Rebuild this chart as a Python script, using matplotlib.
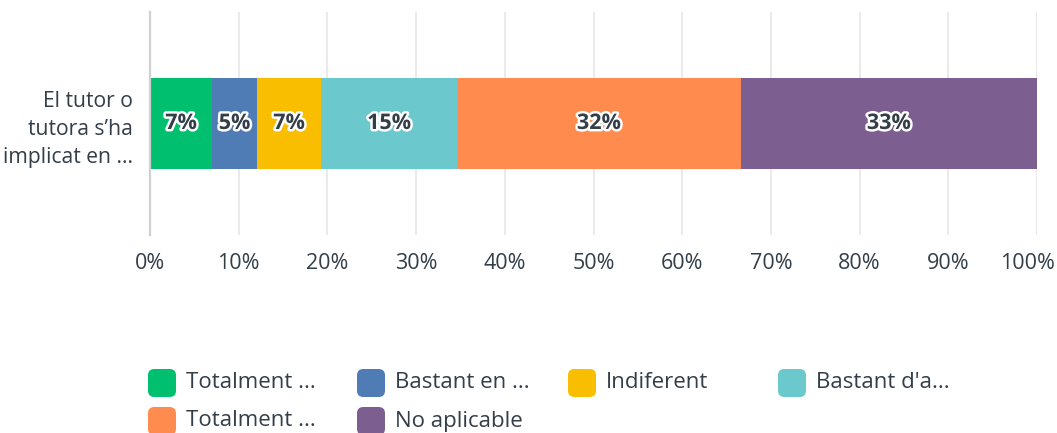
import matplotlib
matplotlib.use("Agg")
import matplotlib.pyplot as plt
from matplotlib.patches import FancyBboxPatch
from matplotlib.transforms import ScaledTranslation
import matplotlib.patheffects as pe

plt.rcParams['font.family'] = ['Open Sans', 'DejaVu Sans']

question = "El tutor o\ntutora s\u2019ha\nimplicat en ..."
categories = ["Totalment ...", "Bastant en ...", "Indiferent", "Bastant d'a...",
              "Totalment ...", "No aplicable"]
values = [6.99, 5.07, 7.22, 15.33, 32.0, 33.39]
labels = ["7%", "5%", "7%", "15%", "32%", "33%"]
colors = ["#00BF6F", "#507CB6", "#F9BE00", "#6BC8CD", "#FF8B4F", "#7D5E90"]
xticks = list(range(0, 101, 10))
xticklabels = [f"{t}%" for t in xticks]

W, H = 1057, 433
fig = plt.figure(figsize=(W / 100, H / 100), dpi=100)
ax = fig.add_axes([150 / W, 1 - 235 / H, (1037 - 150) / W, (235 - 12) / H])

text_col = "#333E48"
left = 0
for v, lab, c in zip(values, labels, colors):
    ax.barh(0, v, left=left, height=0.41, color=c, zorder=3)
    ax.text(left + v / 2, 0, lab, ha="center", va="center", fontsize=15.5,
            fontweight="bold", color=text_col, zorder=4,
            path_effects=[pe.withStroke(linewidth=3.5, foreground="white")])
    left += v

ax.set_xlim(0, 100)
ax.set_ylim(-0.5, 0.5)
ax.set_xticks(xticks)
ax.set_xticklabels(xticklabels, fontsize=15.5, color=text_col)
ax.tick_params(axis="x", length=0, pad=13)
last = ax.get_xticklabels()[-1]
last.set_transform(last.get_transform() + ScaledTranslation(-10 / 100, 0, fig.dpi_scale_trans))
ax.set_yticks([0])
ax.set_yticklabels([question], fontsize=15.2, color=text_col, linespacing=1.45)
ax.tick_params(axis="y", length=0, pad=12)
ax.grid(axis="x", color="#E6E6E6", linewidth=1.2, zorder=0)
for s in ["top", "right", "bottom"]:
    ax.spines[s].set_visible(False)
ax.spines["left"].set_color("#D0D0D0")
ax.spines["left"].set_linewidth(1.6)
ax.spines["left"].set_zorder(5)

# legend drawn manually (row-major, 4 columns)
col_x = [148, 357, 568, 778]
row_y = [383, 421]
sq = 28
for i, (cat, c) in enumerate(zip(categories, colors)):
    r, k = divmod(i, 4)
    x0, yc = col_x[k], row_y[r]
    p = FancyBboxPatch((x0 / W, (H - yc - sq / 2) / H), sq / W, sq / H,
                       boxstyle="round,pad=0,rounding_size=0.006",
                       transform=fig.transFigure, facecolor=c, edgecolor="none",
                       mutation_aspect=W / H)
    fig.patches.append(p)
    fig.text((x0 + sq + 10) / W, (H - yc) / H, cat, ha="left", va="center",
             fontsize=16, color=text_col)

fig.savefig("out.png", dpi=100)
